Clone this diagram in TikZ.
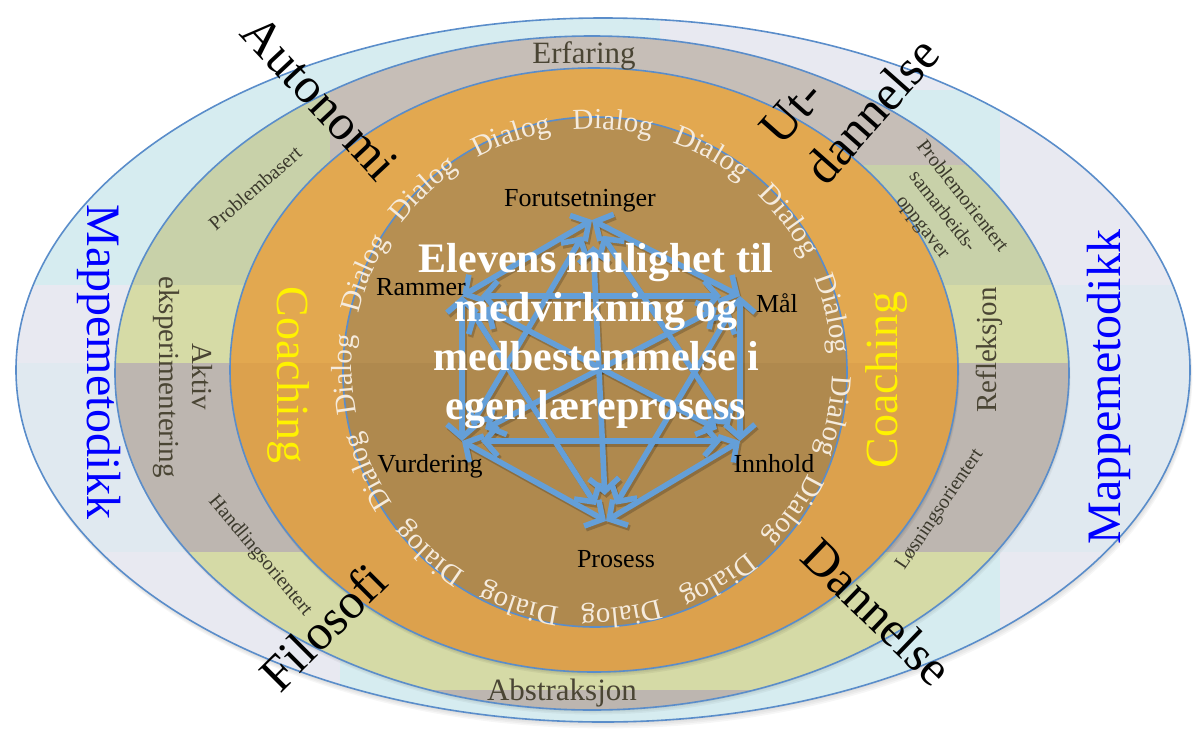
\documentclass[tikz,border=0pt]{standalone}
\usepackage{fontspec}
\setmainfont{Liberation Serif}
\usetikzlibrary{arrows.meta,decorations.text}

\definecolor{ringline}{HTML}{5A8DCA}
\definecolor{skyfill}{HTML}{D6ECF0}
\definecolor{lavfill}{HTML}{E8E9F1}
\definecolor{mistfill}{HTML}{E0E9F0}
\definecolor{mauvefill}{HTML}{C6BEB7}
\definecolor{sagefill}{HTML}{C8D1A9}
\definecolor{limefill}{HTML}{D6DBA6}
\definecolor{duskfill}{HTML}{BDB6B0}
\definecolor{orangeA}{HTML}{E2A850}
\definecolor{orangeB}{HTML}{DCA14D}
\definecolor{coreA}{HTML}{B68F52}
\definecolor{coreB}{HTML}{AF894E}
\definecolor{arrowblue}{HTML}{649FD8}
\definecolor{dialogtxt}{HTML}{F5EBDD}
\definecolor{ringtxt}{HTML}{4A4534}
\definecolor{smalltxt}{HTML}{3B392C}

\newcommand\dialogfont{\fontsize{29}{29}\selectfont\color{dialogtxt}}

\tikzset{
  ringedge/.style={draw=ringline, line width=1.6pt},
  barbs/.style={{Straight Barb[length=13pt,width=30pt]}-{Straight Barb[length=13pt,width=30pt]}},
  arr/.style={draw=arrowblue, line width=5.6pt, barbs},
  arrshade/.style={draw=black, opacity=.2, line width=5.6pt, barbs},
  corner/.style={font=\fontsize{26}{30}\selectfont, text=black, inner sep=0pt, anchor=base},
  ringlabel/.style={font=\fontsize{31}{34}\selectfont, text=ringtxt, inner sep=0pt},
  smalllabel/.style={font=\fontsize{20}{25}\selectfont, text=smalltxt, inner sep=0pt, align=center},
  biglabel/.style={font=\fontsize{50}{60}\selectfont, text=black, inner sep=0pt},
  coachlabel/.style={font=\fontsize{46}{50}\selectfont, text=yellow, inner sep=0pt, anchor=base},
  mappelabel/.style={font=\fontsize{48}{50}\selectfont, text=blue, inner sep=0pt, anchor=base},
  centretext/.style={font=\bfseries\fontsize{42}{49}\selectfont, text=white, inner sep=0pt, align=center}
}

\begin{document}
\begin{tikzpicture}[x=1pt,y=1pt]
\useasboundingbox (0,0) rectangle (1204,-731);

% ---- outer ring: Mappemetodikk -------------------------------------------
\foreach \k in {1,...,4}
  \fill[black, opacity=.035] (603+0.6*\k,-370-1.6*\k) ellipse [x radius=587, y radius=352];
\begin{scope}
  \clip (603,-370) ellipse [x radius=587, y radius=352];
  \fill[skyfill] (0,0) rectangle (1204,-731);
  \fill[lavfill] (0,-285) rectangle (340,-363);
  \fill[mistfill] (0,-363) rectangle (340,-552);
  \fill[lavfill] (0,-552) rectangle (340,-731);
  \fill[lavfill] (660,0) rectangle (1000,-90);
  \fill[lavfill] (1000,0) rectangle (1204,-285);
  \fill[mistfill] (1000,-285) rectangle (1204,-552);
  \fill[lavfill] (1000,-552) rectangle (1204,-731);
\end{scope}
\draw[ringedge] (603,-370) ellipse [x radius=587, y radius=352];

% ---- second ring: learning cycle ------------------------------------------
\foreach \k in {1,...,3}
  \fill[black, opacity=.04] (592+0.5*\k,-373-1.5*\k) ellipse [x radius=477, y radius=337];
\begin{scope}
  \clip (592,-373) ellipse [x radius=477, y radius=337];
  \fill[sagefill] (0,0) rectangle (1204,-285);
  \fill[mauvefill] (330,0) rectangle (1010,-165);
  \fill[limefill] (0,-285) rectangle (1204,-363);
  \fill[duskfill] (0,-363) rectangle (1204,-552);
  \fill[limefill!90!sagefill] (0,-552) rectangle (1204,-690);
  \fill[duskfill] (0,-690) rectangle (1204,-731);
\end{scope}
\draw[ringedge] (592,-373) ellipse [x radius=477, y radius=337];

% ---- orange ring: Coaching ------------------------------------------------
\foreach \k in {1,...,3}
  \fill[black, opacity=.05] (594+0.5*\k,-370-1.5*\k) ellipse [x radius=364, y radius=302];
\begin{scope}
  \clip (594,-370) ellipse [x radius=364, y radius=302];
  \fill[orangeA] (0,0) rectangle (1204,-363);
  \fill[orangeB] (0,-363) rectangle (1204,-731);
\end{scope}
\draw[ringedge] (594,-370) ellipse [x radius=364, y radius=302];

% ---- core disc --------------------------------------------------------------
\begin{scope}
  \clip (595,-372) ellipse [x radius=252, y radius=255];
  \fill[coreA] (0,0) rectangle (1204,-363);
  \fill[coreB] (0,-363) rectangle (1204,-731);
\end{scope}
\draw[ringedge] (595,-372) ellipse [x radius=252, y radius=255];

% ---- Dialog ring ----------------------------------------------------------
\path[decorate, decoration={text along path, text align={fit to path stretching spaces},
  text={|\dialogfont|Dialog Dialog Dialog Dialog Dialog Dialog Dialog Dialog Dialog Dialog Dialog Dialog Dialog Dialog Dialog}}]
  (592,-369) ++(190.75:240) arc[start angle=190.75, end angle=-164.75, radius=240];

% ---- didactic relation model: every factor linked to every other ------------
\coordinate (nF) at (592,-220);
\coordinate (nM) at (740,-296);
\coordinate (nI) at (740,-441);
\coordinate (nP) at (606,-521);
\coordinate (nV) at (462,-441);
\coordinate (nR) at (462,-296);

% hexagon sides, short diagonals, long diagonals
\foreach \a/\b/\s in {nF/nM/0,nM/nI/0,nI/nP/0,nP/nV/0,nV/nR/0,nR/nF/0,
                      nF/nI/19,nF/nV/19,nM/nP/19,nM/nR/19,nI/nV/19,nP/nR/19,
                      nF/nP/26,nM/nV/26,nI/nR/26}
  \draw[arrshade, shorten <=\s pt, shorten >=\s pt,
        transform canvas={shift={(1.8pt,-2.8pt)}}] (\a) -- (\b);
\foreach \a/\b/\s in {nF/nM/0,nM/nI/0,nI/nP/0,nP/nV/0,nV/nR/0,nR/nF/0,
                      nF/nI/19,nF/nV/19,nM/nP/19,nM/nR/19,nI/nV/19,nP/nR/19,
                      nF/nP/26,nM/nV/26,nI/nR/26}
  \draw[arr, shorten <=\s pt, shorten >=\s pt] (\a) -- (\b);

\node[corner] (forut) at (580,-206) {Forutsetninger};
\node[corner] (rammer) at (421,-295) {Rammer};
\node[corner] (maal) at (777,-312) {Mål};
\node[corner] (vurd) at (430,-472) {Vurdering};
\node[corner] (innh) at (774,-472) {Innhold};
\node[corner] (prosess) at (616,-567) {Prosess};

\node[centretext, anchor=north] (elevens) at (596,-243)
  {Elevens mulighet til\\medvirkning og\\medbestemmelse i\\egen læreprosess};

% ---- ring labels ------------------------------------------------------------
\node[ringlabel, anchor=base] (erfaring) at (584,-63) {Erfaring};
\node[ringlabel, anchor=base] (abstr) at (562,-700) {Abstraksjon};
\node[ringlabel, rotate=-90, align=center, font=\fontsize{29}{33}\selectfont] (aktiv) at (183,-377)
  {Aktiv\\eksperimentering};
\node[ringlabel, rotate=90, anchor=base, font=\fontsize{29}{33}\selectfont] (refl) at (996,-350) {Refleksjon};

\node[smalllabel, rotate=41] (probbas) at (255,-188) {Problembasert};
\node[smalllabel, rotate=-50] (handl) at (260,-556) {Handlingsorientert};
\node[smalllabel, rotate=56] (losn) at (940,-510) {Løsningsorientert};
\node[smalllabel, rotate=-52] (probor) at (942,-212) {Problemorientert\\samarbeids-\\oppgaver};

\node[coachlabel, rotate=-90] (coachL) at (277,-375) {Coaching};
\node[coachlabel, rotate=90] (coachR) at (897,-380) {Coaching};
\node[mappelabel, rotate=-90] (mappeL) at (87,-362) {Mappemetodikk};
\node[mappelabel, rotate=90] (mappeR) at (1120,-387) {Mappemetodikk};

% ---- outer concepts ---------------------------------------------------------
\node[biglabel, rotate=-47] (autonomi) at (320,-98) {Autonomi};
\node[biglabel, rotate=48.5, align=left] (utdann) at (850,-91) {Ut-\\dannelse};
\node[biglabel, rotate=-44] (dannelse) at (877,-612) {Dannelse};
\node[biglabel, rotate=45] (filosofi) at (323,-627) {Filosofi};
\end{tikzpicture}
\end{document}
